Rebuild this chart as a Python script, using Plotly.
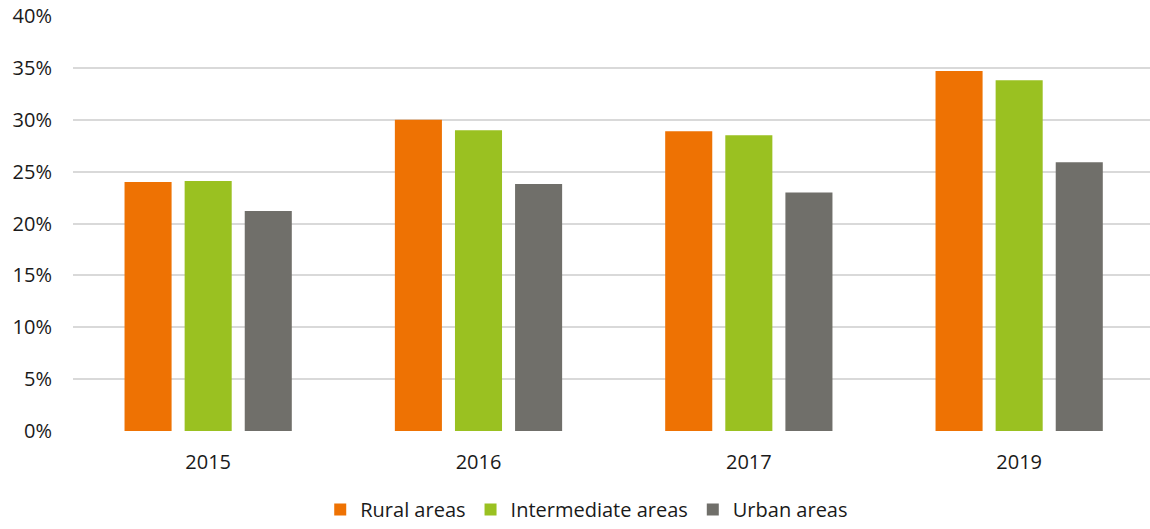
import plotly.graph_objects as go

years = ["2015", "2016", "2017", "2019"]
rural = [24.0, 30.0, 28.9, 34.7]
intermediate = [24.1, 29.0, 28.5, 33.8]
urban = [21.2, 23.8, 23.0, 25.9]

series = [
    ("Rural areas", rural, "#EE7203"),
    ("Intermediate areas", intermediate, "#9AC121"),
    ("Urban areas", urban, "#706F6A"),
]

fig = go.Figure()
for name, vals, col in series:
    fig.add_trace(go.Bar(
        x=years, y=[v / 100 for v in vals], name=name,
        marker=dict(color=col, line=dict(width=0)),
    ))

font = "Open Sans, Segoe UI, Liberation Sans, sans-serif"
fig.update_layout(
    width=1150, height=529,
    margin=dict(l=73, r=0, t=16, b=98, autoexpand=False),
    paper_bgcolor="white", plot_bgcolor="white",
    barmode="group", bargap=0.333, bargroupgap=0.217,
    font=dict(family=font, size=20, color="#1a1a1a"),
    showlegend=True,
    legend=dict(orientation="h", x=0.477, xanchor="center",
                yref="container", y=0.0, yanchor="bottom",
                font=dict(size=20), itemwidth=30, traceorder="normal"),
    xaxis=dict(range=[-0.5, 3.484], showgrid=False, showline=False, zeroline=False,
               ticks="", ticklabelstandoff=17, automargin=False),
    yaxis=dict(range=[0, 0.4], dtick=0.05, tickformat=".0%", showgrid=True,
               gridcolor="#D9D9D9", gridwidth=2, zeroline=False, showline=False,
               ticks="", ticklabelstandoff=20, automargin=False),
)

fig.write_html("out.html")
